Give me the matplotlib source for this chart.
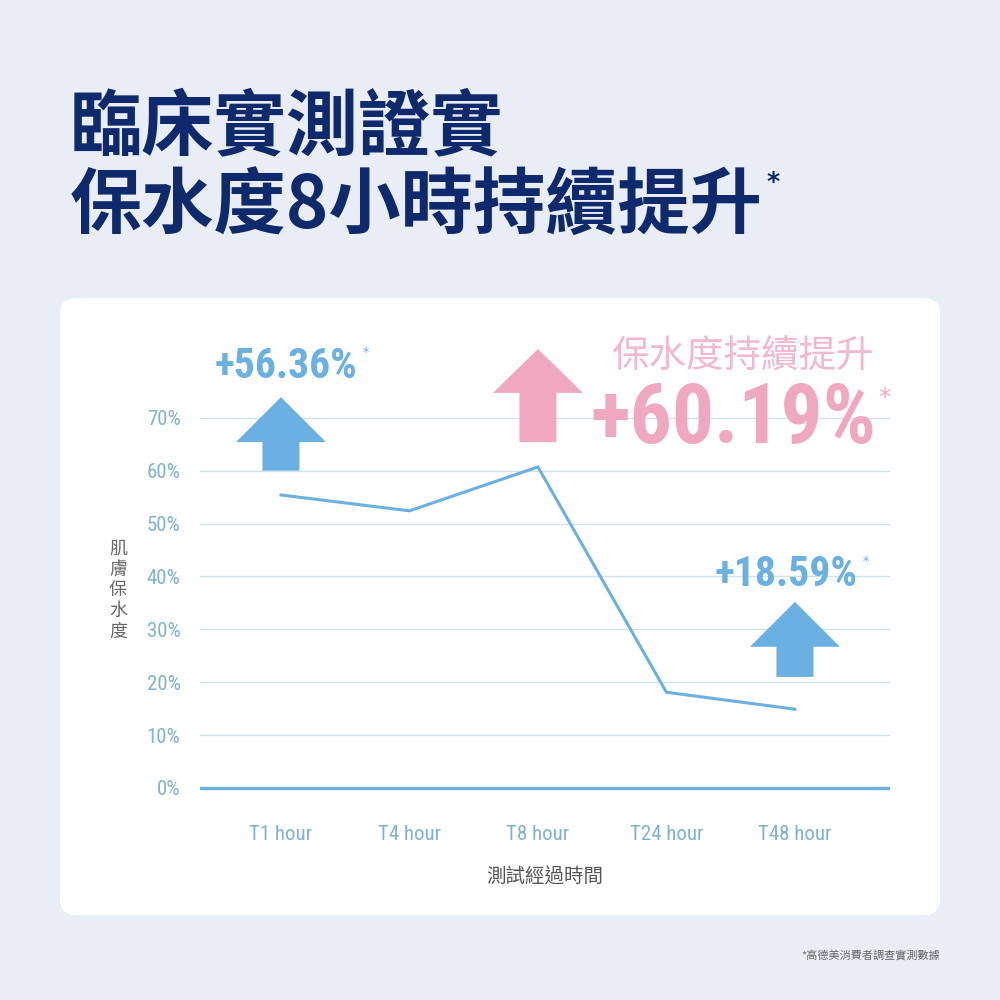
import os
import matplotlib
matplotlib.use('Agg')
import matplotlib.pyplot as plt
import matplotlib.patches as patches
from matplotlib import font_manager as fm

# ---- data ----
categories = ['T1 hour', 'T4 hour', 'T8 hour', 'T24 hour', 'T48 hour']
moisture = [55.4, 52.4, 60.7, 18.1, 14.9]
y_ticks = [0, 10, 20, 30, 40, 50, 60, 70]
y_tick_labels = ['0%', '10%', '20%', '30%', '40%', '50%', '60%', '70%']

# arrows: category index, base, head start, tip (in % units)
arrow_idx = [0, 2, 4]
arrow_base = [60.0, 65.4, 21.0]
arrow_head = [65.4, 74.7, 26.7]
arrow_tip = [73.9, 83.0, 35.2]

title_lines = ['臨床實測證實', '保水度8小時持續提升']
gain_small = ['+56.36%', '+18.59%']
gain_big = '+60.19%'

NAVY = '#0e2a6c'
BLUE = '#6ab0e2'
PINK = '#f0a8c0'
TICK = '#7fb3d2'
GRID = '#cfe1ea'
CJK = ['Noto Sans CJK TC', 'DejaVu Sans']


def narrow_font(bold):
    # look for an installed condensed / narrow face
    prefs = ['liberationsansnarrow', 'robotocondensed', 'dejavusanscondensed',
             'notosans-condensed', 'opensans_condensed', 'opensanscondensed', 'condensed', 'narrow']
    found = []
    for f in fm.fontManager.ttflist:
        name = os.path.basename(f.fname).lower().replace(' ', '')
        if 'condensed' not in name and 'narrow' not in name:
            continue
        if 'italic' in name or 'oblique' in name:
            continue
        is_bold = name.endswith('bold.ttf') or name.endswith('-bold.otf') or 'bold.' in name
        if 'semibold' in name or 'extrabold' in name or 'extralight' in name:
            continue
        if bold != is_bold:
            continue
        if not bold and ('light' in name or 'thin' in name or 'medium' in name or 'black' in name):
            continue
        rank = next(i for i, p in enumerate(prefs) if p in name)
        found.append((rank, f.fname))
    if found:
        return fm.FontProperties(fname=sorted(found)[0][1])
    return fm.FontProperties(family='Roboto', weight='bold' if bold else 'normal')


NUM_B = narrow_font(True)
NUM_R = narrow_font(False)

fig = plt.figure(figsize=(10, 10), dpi=100)
fig.patch.set_facecolor('#e9edf6')

# background layer in pixel coords
bg = fig.add_axes([0, 0, 1, 1])
bg.set_xlim(0, 1000)
bg.set_ylim(1000, 0)
bg.axis('off')
bg.add_patch(patches.FancyBboxPatch((60, 298), 880, 617,
                                    boxstyle='round,pad=0,rounding_size=16',
                                    fc='white', ec='none'))
bg.text(70, 128, title_lines[0], fontsize=52, fontweight='bold', color=NAVY,
        family=CJK, va='center', ha='left')
t2 = bg.text(70, 208, title_lines[1], fontsize=52, fontweight='bold', color=NAVY,
             family=CJK, va='center', ha='left')
bg.text(118, 590, '\n'.join('肌膚保水度'), fontsize=13, color='#666666',
        family=CJK, va='center', ha='center', linespacing=1.2)
bg.text(940, 955, '*高德美消費者調查實測數據', fontsize=8, color='#666666',
        family=CJK, va='center', ha='right')

# asterisk right after the title
fig.canvas.draw()
ext = t2.get_window_extent()
bg.text(ext.x1 + 4, 182, '*', fontsize=18, fontweight='bold', color=NAVY,
        va='center', ha='left')

# ---- chart ----
ax = fig.add_axes([0.20, 0.20, 0.69, 0.46])
ax.set_facecolor('none')
x = list(range(len(categories)))
ax.set_xlim(-0.63, 4.74)
ax.set_ylim(-2.27, 84.7)
for s in ax.spines.values():
    s.set_visible(False)
ax.set_yticks(y_ticks)
ax.set_yticklabels(y_tick_labels, fontproperties=NUM_R, fontsize=15, color=TICK)
ax.set_xticks(x)
ax.set_xticklabels(categories, fontproperties=NUM_R, fontsize=15, color=TICK)
ax.tick_params(axis='y', length=0, pad=14)
ax.tick_params(axis='x', length=0, pad=18)
ax.grid(axis='y', color=GRID, lw=1)
ax.axhline(0, color=BLUE, lw=2.4, zorder=3)
ax.set_xlabel('測試經過時間', family=CJK, fontsize=14, color='#555555', labelpad=16)

ax.plot(x, moisture, color=BLUE, lw=2.2, zorder=4, solid_joinstyle='miter')

for ci, b, h, t in zip(arrow_idx, arrow_base, arrow_head, arrow_tip):
    col = PINK if ci == 2 else BLUE
    pts = [(ci - 0.144, b), (ci + 0.144, b), (ci + 0.144, h), (ci + 0.35, h),
           (ci, t), (ci - 0.35, h), (ci - 0.144, h)]
    ax.add_patch(patches.Polygon(pts, closed=True, fc=col, ec='none',
                                 zorder=5, clip_on=False))

ax.text(0.04, 79.6, gain_small[0], fontproperties=NUM_B, fontsize=30, color=BLUE,
        ha='center', va='center', zorder=6)
ax.text(0.66, 82.3, '*', fontsize=9, color=BLUE, ha='center', va='center')
ax.text(3.93, 40.3, gain_small[1], fontproperties=NUM_B, fontsize=30, color=BLUE,
        ha='center', va='center', zorder=6)
ax.text(4.55, 42.8, '*', fontsize=9, color=BLUE, ha='center', va='center')
ax.text(3.59, 81.5, '保水度持續提升', fontsize=27, fontweight='light', color='#f2b9ca',
        family=CJK, ha='center', va='center')
ax.text(3.52, 69.4, gain_big, fontproperties=NUM_B, fontsize=60, color=PINK,
        ha='center', va='center', zorder=6)
ax.text(4.70, 73.8, '*', fontsize=18, color=PINK, ha='center', va='center')

fig.savefig('out.png', dpi=100, facecolor=fig.get_facecolor())
